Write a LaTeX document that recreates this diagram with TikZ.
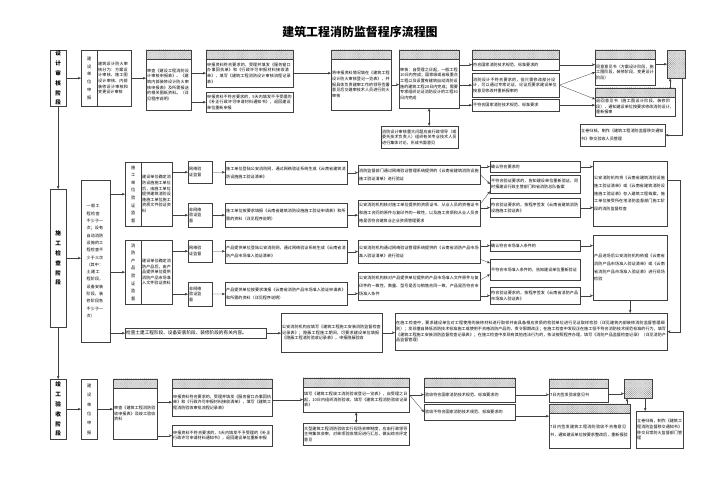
\documentclass[tikz,border=0pt]{standalone}
\usepackage{fontspec}
\setmainfont{Noto Sans CJK SC}
\XeTeXlinebreaklocale "zh"
\XeTeXlinebreakskip=0pt plus 1pt
\usepackage{tikz}
\usetikzlibrary{arrows.meta, patterns}
\newlength\pxu
\setlength\pxu{0.05cm}

\begin{document}
\begin{tikzpicture}[
    x=\pxu, y=-\pxu,
    box/.style={draw=black!75, line width=0.45pt, anchor=north west, inner xsep=1.5pt, inner ysep=1pt,
                align=left, font=\fontsize{5.8}{8}\selectfont},
    loose/.style={font=\fontsize{5.8}{11}\selectfont},
    vtext/.style={box, align=center, font=\fontsize{6}{11}\selectfont},
    stage/.style={box, align=center, font=\bfseries\fontsize{8}{14}\selectfont},
    hdr/.style={draw=black!75, line width=0.45pt, anchor=south west, inner sep=0pt,
                preaction={fill=black!10}, pattern=crosshatch dots, pattern color=black!55},
    wh/.code 2 args={\pgfmathsetlengthmacro\boxw{#1*\pxu}\pgfmathsetlengthmacro\boxh{#2*\pxu}%
        \edef\boxtmp{\noexpand\tikzset{minimum width=\boxw, minimum height=\boxh}}\boxtmp},
    sz/.code 2 args={\pgfmathsetlengthmacro\boxt{#1*\pxu-3pt}%
        \edef\boxtmp{\noexpand\tikzset{wh={#1}{#2}, text width=\boxt}}\boxtmp},
    arr/.style={-{Stealth[length=1.6mm, width=1.3mm]}, draw=black!75, line width=0.45pt},
    darr/.style={arr, {Stealth[length=1.6mm, width=1.3mm]}-{Stealth[length=1.6mm, width=1.3mm]}}
]
\useasboundingbox (0,0) rectangle (707,500);

\node[font=\bfseries\fontsize{17}{20}\selectfont] (title) at (360,32) {建筑工程消防监督程序流程图};

% --- 设计审核阶段 ---
\node[stage, sz={16}{56}] (S1) at (50,50) {设\\计\\审\\核\\阶\\段};
\node[vtext, sz={16}{56}] (D1a) at (81,50) {建\\设\\单\\位\\申\\报};
\node[box, sz={34}{56}] (D1b) at (97,50) {建筑设计防火审核分为：方案设计审核、施工图设计审核、内部装修设计审核和变更设计审核};
\node[box, sz={45}{51}] (D2) at (146,59) {审查《建设工程消防设计审核申报表》、《建筑内部装修设计防火审核申报表》及所需报送的相关图纸资料。（详见程序说明）};
\node[hdr, wh={45}{9}] (D2h) at (D2.north west) {};
\node[box, sz={87}{28}] (D3) at (206,59) {申报资料符合要求的，受理并填发《服务窗口办事回执单》和《行政许可申报材料接收清单》，填写《建筑工程消防设计审核流程记录表》};
\node[hdr, wh={87}{9}] (D3h) at (D3.north west) {};
\node[box, sz={87}{20}] (D4) at (206,92) {申报资料不符合要求的，5天内填发不予受理的《补正行政许可申请材料通知书》，退回建设单位重新申报};
\node[box, sz={60}{51}] (D5) at (331,59) {将申报资料情况填在《建筑工程设计防火审核登记一览表》，并报具体负责建审工作的领导签署意见后交建审技术人员进行防火审核};
\node[hdr, wh={60}{9}] (D5h) at (D5.north west) {};
\node[box, sz={60}{49}] (D6) at (399,59) {审核：自受理之日起，一般工程10日内完成；国家级或省级重点工程以及设置有建筑自动消防设施的建筑工程20日内完成；需要专家组织论证消防设计的工程30日内完成};
\node[hdr, wh={60}{9}] (D6h) at (D6.north west) {};
\node[box, sz={77}{22}] (D7) at (381,126) {消防设计审核重大问题应由行政领导（或委托技术负责人）组织有关专业技术人员进行集体讨论，形成书面意见};
\node[box, sz={87}{11}] (D8) at (472,59) {符合国家消防技术规范、标准要求的};
\node[hdr, wh={87}{9}] (D8h) at (D8.north west) {};
\node[box, sz={87}{24}] (D9) at (472,73) {消防设计不符合要求的，但只需修改部分设计，可以通过专家论证，论证后要求建设单位按意见修改并重新报审的};
\node[box, sz={87}{12}] (D10) at (472,99) {不符合国家消防技术规范、标准要求};
\node[box, sz={60}{26}] (D11) at (595,59) {同意意见书（方案设计阶段，施工图阶段，装修阶段，变更设计阶段）};
\node[hdr, wh={60}{9}] (D11h) at (D11.north west) {};
\node[box, sz={80}{19}] (D12) at (595,97) {退回意见书（施工图设计阶段，装修阶段），通知建设单位按要求修改消防设计，重新报审};
\node[hdr, wh={80}{9}] (D12h) at (D12.north west) {};
\node[hdr, anchor=north west, wh={18}{28}] (D13) at (667,50) {};
\node[box, loose, sz={85}{22}] (D14) at (580,124) {立卷归档，制作《建筑工程消防监督移交通知书》移交验收人员管理};

\draw[arr] (S1) -- (D1a);
\draw[arr] (D1b.east) -- (D1b.east -| D2.west);
\draw[arr] (D2.east |- D3) -- (D3);
\draw[arr] (D2.east |- D4) -- (D4);
\draw[arr] (D3.east) -- (D3.east -| D5.west);
\draw[arr] (D5.east) -- (D5.east -| D6.west);
\draw[darr] (D6.south) -- (D6.south |- D7.north);
\draw[arr] (D6.east |- D8) -- (D8);
\draw[arr] (D6.east |- D9) -- (D9);
\draw[arr] (D6.east |- D10) -- (D10);
\draw[arr] (D8.east) -- (D8.east -| D11.west);
\draw[arr] (D9.east) -- (D11.west);
\draw[arr] (D9.east) -- ([yshift=0.375cm]D12.west);
\draw[arr] (D10.east) -- (D10.east -| D12.west);
\draw[arr] (D13.west -| D11.east) -- (D13.west);
\draw[arr] ([xshift=-0.3cm]D13.south |- D12h.north) -- ([xshift=-0.3cm]D13.south);
\draw[arr] ([xshift=-0.15cm]D13.south east) |- (D14.east);

% --- 施工检查阶段 ---
\node[stage, sz={16}{138}] (S2) at (50,189) {施\\工\\检\\查\\阶\\段};
\node[box, sz={29}{162}, text width=0.9cm, font=\fontsize{5.8}{10.4}\selectfont] (C1) at (81,180) {一般工程检查不少于一次；设有自动消防设施的工程检查不少于三次（其中：土建工程阶段，设备安装阶段，装修阶段各不少于一次）};
\node[vtext, sz={16}{64}, font=\fontsize{6}{10.8}\selectfont] (C2a) at (125,162) {施\\工\\单\\位\\验\\证\\监\\督};
\node[box, sz={31}{64}] (C2b) at (141,162) {建设单位确定消防设施施工单位后，由施工单位提供建筑消防设施施工单位施工资质文件验证资料};
\node[vtext, sz={16}{64}, font=\fontsize{6}{10.8}\selectfont] (C3a) at (125,240) {消\\防\\产\\品\\验\\证\\监\\督};
\node[box, sz={31}{64}] (C3b) at (141,240) {建设单位确定消防产品后，由产品提供单位提供消防产品市场准入文件验证资料};

\node[box, sz={24}{22}] (C4) at (188,161) {网络验\\证监督};
\node[box, sz={24}{24}] (C5) at (188,203) {非网络\\验证监\\督};
\node[box, loose, sz={122}{23}] (C6) at (225,161) {施工单位登陆公安消防网，通过网络验证系统生成《云南省建筑消防设施施工验证清单》};
\node[box, loose, sz={122}{24}] (C7) at (225,203) {施工单位按要求填报《云南省建筑消防设施施工验证申请表》和所需的资料（详见程序说明）};
\node[box, loose, sz={122}{19}] (C8) at (358,165) {消防监督部门通过网络验证管理系统提供的《云南省建筑消防设施施工验证清单》进行验证};
\node[box, loose, sz={122}{26}] (C9) at (358,200) {公安消防机构核对施工单位提供的资质证书、从业人员的资格证书和施工合同的原件与复印件的一致性，以及施工资质和从业人员资格是否符合建筑业企业资质管理要求};
\node[box, sz={90}{11}] (C10) at (490,161) {确认符合要求的};
\node[box, sz={90}{18}] (C11) at (490,175) {不符合验证要求的，告知建设单位重新验证，同时报建设行政主管部门和省消防总队备案};
\node[box, sz={90}{19}] (C12) at (490,198) {符合验证要求的，按程序签发《云南省建筑消防设施施工验证表》};
\node[box, loose, sz={74}{65}] (C13) at (593,161) {公安消防机构将《云南省建筑消防设施施工验证清单》或《云南省建筑消防设施施工验证表》存入建筑工程档案，施工单位接受所在地消防监督部门施工阶段的消防监督检查};

\node[box, sz={24}{22}] (C15) at (188,240) {网络验\\证监督};
\node[box, sz={24}{24}] (C16) at (188,282) {非网络\\验证监\\督};
\node[box, loose, sz={122}{23}] (C17) at (225,240) {产品提供单位登陆公安消防网，通过网络验证系统生成《云南省消防产品市场准入验证清单》};
\node[box, loose, sz={122}{23}] (C18) at (225,282) {产品提供单位按要求填报《云南省消防产品市场准入验证申请表》和所需的资料（详见程序说明）};
\node[box, loose, sz={122}{23}] (C20) at (358,240) {公安消防机构通过网络验证管理系统提供的《云南省消防产品市场准入验证清单》进行验证};
\node[box, loose, sz={122}{28}] (C21) at (358,272) {公安消防机构核对产品提供单位提供的产品市场准入文件原件与复印件的一致性，数量、型号是否与销售合同一致，产品是否符合市场准入条件};
\node[box, sz={90}{11}] (C22) at (490,240) {确认符合市场准入条件的};
\node[box, sz={90}{21}] (C23) at (490,259) {不符合市场准入条件的，告知建设单位重新验证};
\node[box, sz={90}{17}] (C24) at (490,287) {符合验证要求的，按程序签发《云南省消防产品市场准入验证表》};
\node[box, loose, sz={74}{65}] (C25) at (593,235) {产品进场后公安消防机构依据《云南省消防产品市场准入验证清单》或《云南省消防产品市场准入验证表》进行现场检验};

\node[box, sz={141}{10}, font=\fontsize{6.6}{8}\selectfont] (C14) at (125,328) {检查土建工程阶段、设备安装阶段、装修阶段的有关内容。};
\node[box, sz={101}{39}] (C26) at (281,313) {公安消防机构应填写《建筑工程施工安装消防监督检查记录表》；隐蔽工程施工期间，可要求建设单位填报《隐蔽工程消防验收记录表》，申报隐蔽验收};
\node[box, sz={272}{37}] (C19) at (395,313) {在施工检查中，要求建设单位对工程使用的装修材料进行取样并由具备相应资质的检验单位进行见证取样检验（详见建筑内部装修消防监督管理细则）；发现擅自降低消防技术标准施工或使用不合格消防产品的，责令限期改正；在施工检查中发现正在施工但不符合消防技术规范标准的行为，填写《建筑工程施工安装消防监督检查记录表》；在施工检查中发现有其他违法行为的，依法按照程序办理，填写《消防产品监督检查记录》（详见消防产品监督管理）};

\draw[arr] (S1) -- (S2);
\draw[arr] (S2.east) -- (S2.east -| C1.west);
\draw[arr] (C1.east |- C2a) -- (C2a);
\draw[arr] (C1.east |- C3a) -- (C3a);
\draw[arr] (C1.east |- C14) -- (C14);
\draw[arr] (C2b.east |- C4) -- (C4);
\draw[arr] (C2b.east |- C5) -- (C5);
\draw[arr] (C4) -- (C6);
\draw[arr] (C5) -- (C7);
\draw[arr] (C6.east) -- (C6.east -| C8.west);
\draw[arr] (C7.east) -- (C7.east -| C9.west);
\draw[arr] (C8.east |- C10) -- (C10);
\draw[arr] (C8.east) -- (C11.west);
\draw[arr] ([yshift=-0.2cm]C9.north east) -- ([yshift=0.1cm]C11.south west);
\draw[arr] (C9.east |- C12) -- (C12);
\draw[arr] (C10.east) -- (C10.east -| C13.west);
\draw[arr] (C12.east) -- (C12.east -| C13.west);
\draw[arr] ([yshift=0.675cm]C13.east) -- ++(13,0) |- (C19.east);

\draw[arr] (C3b.east |- C15) -- (C15);
\draw[arr] (C3b.east |- C16) -- (C16);
\draw[arr] (C15) -- (C17);
\draw[arr] (C16) -- (C18);
\draw[arr] (C17.east) -- (C17.east -| C20.west);
\draw[arr] (C18.east) -- (C18.east -| C21.west);
\draw[arr] (C20.east |- C22) -- (C22);
\draw[arr] ([yshift=0.2cm]C20.south east) -- ([yshift=-0.2cm]C23.north west);
\draw[arr] ([yshift=-0.4cm]C21.north east) -- ([yshift=0.3cm]C23.south west);
\draw[arr] (C21.east |- C24) -- (C24);
\draw[arr] (C22.east) -- (C22.east -| C25.west);
\draw[arr] (C24.east) -- (C24.east -| C25.west);
\draw[arr] (C25.south) -- (C25.south |- C19.north);

\draw[arr] (C14.east) -- (C14.east -| C26.west);
\draw[arr] (C26.east) -- (C26.east -| C19.west);

% --- 竣工验收阶段 ---
\node[stage, sz={16}{60}] (S3) at (50,379) {竣\\工\\验\\收\\阶\\段};
\node[vtext, sz={16}{60}, font=\fontsize{6}{13.5}\selectfont] (A1) at (81,379) {建\\设\\单\\位\\申\\报};
\node[box, sz={44}{51}] (A2) at (113,388) {审查《建筑工程消防验收申报表》及竣工验收资料\\[16pt]};
\node[hdr, wh={44}{9}] (A2h) at (A2.north west) {};
\node[box, sz={100}{28}] (A3) at (172,388) {申报资料符合要求的，受理并填发《服务窗口办事回执单》和《行政许可申报材料接收清单》，填写《建筑工程消防验收审批流程记录表》};
\node[hdr, wh={100}{9}] (A3h) at (A3.north west) {};
\node[box, sz={100}{21}] (A4) at (172,425) {申报资料不符合要求的，5天内填发不予受理的《补正行政许可申请材料通知书》，退回建设单位重新申报};
\node[box, sz={106}{25}] (A5) at (303,387) {填写《建筑工程竣工消防验收登记一览表》，自受理之日起，10日内组织消防验收，填写《建筑工程消防验收记录表》};
\node[hdr, wh={106}{9}] (A5h) at (A5.north west) {};
\node[box, sz={106}{22}] (A6) at (303,423) {大型建筑工程消防验收实行现场会审制度，应由行政领导主持集体会审，对单项验收情况进行汇总，做出综合评定意见};
\node[box, sz={91}{15}] (A7) at (424,387) {验收符合国家消防技术规范、标准要求的};
\node[hdr, wh={91}{9}] (A7h) at (A7.north west) {};
\node[box, sz={91}{16}] (A8) at (424,404) {验收不符合国家消防技术规范、标准要求的};
\node[box, sz={59}{14}] (A9) at (549,388) {7日内签发验收意见书};
\node[hdr, wh={59}{9}] (A9h) at (A9.north west) {};
\node[box, loose, sz={81}{35}] (A10) at (549,413) {7日内签发建筑工程消防验收不合格意见书，通知建设单位按要求整改后，重新报验};
\node[hdr, wh={81}{9}] (A10h) at (A10.north west) {};
\node[hdr, anchor=north west, wh={28}{19}] (A11) at (624,379) {};
\node[box, sz={47}{37}] (A12) at (636,411) {立卷归档，制作《建筑工程消防监督移交通知书》移交日常防火监督部门管理};

\draw[arr] (S2) -- (S3);
\draw[arr] (S3) -- (A1);
\draw[arr] (A1.east) -- (A1.east -| A2.west);
\draw[arr] (A2.east |- A3) -- (A3);
\draw[arr] (A2.east |- A4) -- (A4);
\draw[arr] (A3.east |- A5) -- (A5);
\draw[darr] (A5.south) -- (A5.south |- A6.north);
\draw[arr] (A5.east |- A7) -- (A7);
\draw[arr] (A5.east |- A7) -- (A8.west);
\draw[arr] (A7.east) -- (A7.east -| A9.west);
\draw[arr] ([yshift=-0.2cm]A8.east) -- ([yshift=-0.2cm]A8.east -| A10.west);
\draw[arr] ([yshift=-0.25cm]A11.west -| A9.east) -- ([yshift=-0.25cm]A11.west);
\draw[arr] ([xshift=0.15cm]A11.south west |- A10h.north) -- ([xshift=0.15cm]A11.south west);
\draw[arr] ([xshift=0.35cm]A11.south) -- ([xshift=0.35cm]A11.south |- A12.north);

\end{tikzpicture}
\end{document}
